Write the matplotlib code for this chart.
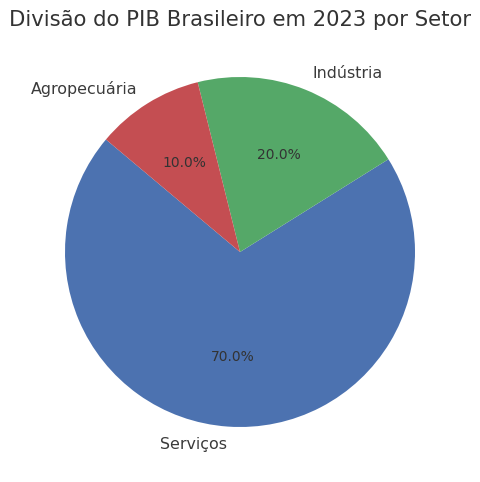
import matplotlib
matplotlib.use("Agg")
import matplotlib.pyplot as plt
import seaborn as sns

setores = ["Serviços", "Indústria", "Agropecuária"]
participacao = [70, 20, 10]

sns.set_theme(style="whitegrid")
cores = sns.color_palette("deep")
cores = [cores[0], cores[2], cores[3]]

fig = plt.figure(figsize=(4.8, 4.82), dpi=100)
# pie of radius 175 px centred at (240, 252) px from top-left
ax = fig.add_axes([65 / 480, (482 - 252 - 175) / 482, 350 / 480, 350 / 482])
_, textos, pcts = ax.pie(participacao, labels=setores, colors=cores,
                         autopct="%1.1f%%", startangle=140,
                         wedgeprops={"linewidth": 0},
                         textprops={"fontsize": 11.4, "color": "#3a3a3a"})
for t in pcts:
    t.set_fontsize(10)
    t.set_color("#333333")
ax.set_xlim(-1, 1)
ax.set_ylim(-1, 1)
ax.set_aspect("equal")
fig.text(0.5, 1 - 20 / 482, "Divisão do PIB Brasileiro em 2023 por Setor",
         ha="center", va="center", fontsize=15.2, color="#333333")
fig.savefig("out.png")
